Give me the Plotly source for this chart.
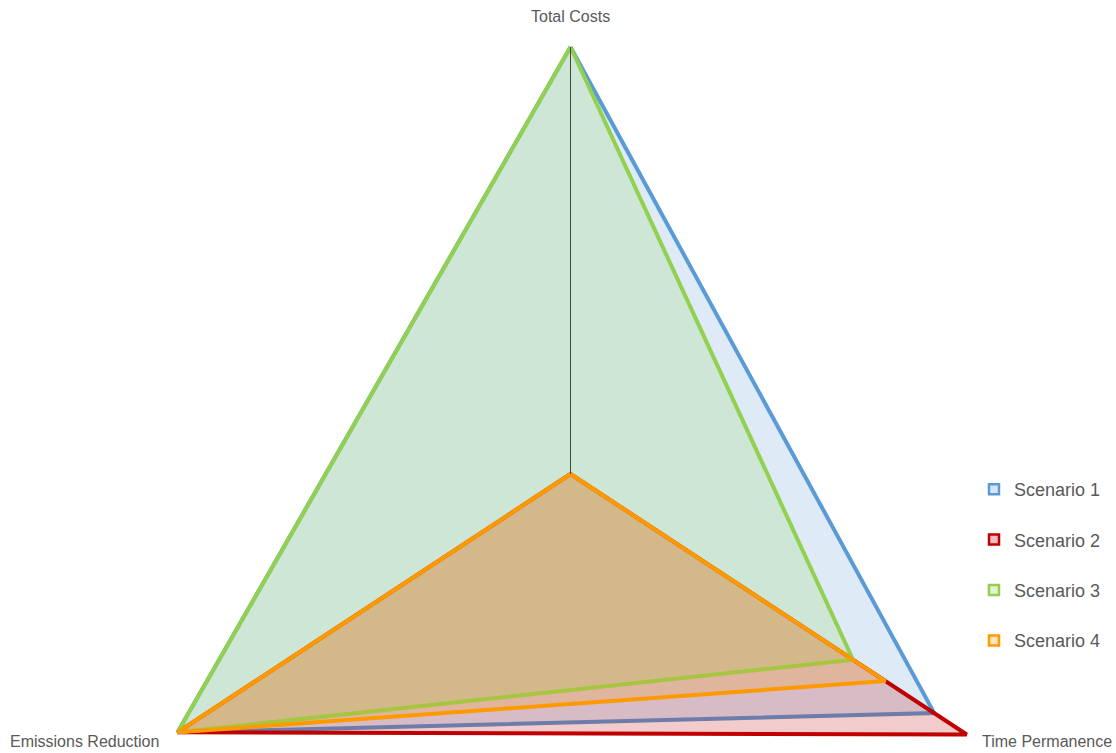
import math
import plotly.graph_objects as go

# Radar axes, clockwise from the top
categories = ["Total Costs", "Time Permanence", "Emissions Reduction"]
axis_angles = [90, -30, 210]  # degrees

scenarios = ["Scenario 1", "Scenario 2", "Scenario 3", "Scenario 4"]
scenario_1 = [1.00, 1.12, 1.21]
scenario_2 = [0.00, 1.22, 1.21]
scenario_3 = [1.00, 0.87, 1.21]
scenario_4 = [0.00, 0.97, 1.21]
axis_max = 1.0

line_colors = ["#5B9BD5", "#C00000", "#92D050", "#FF9900"]
fill_alpha = 0.2

FONT = "Liberation Sans, Arial, sans-serif"
TEXT_GRAY = "#595959"


def rgba(hex_color, a):
    h = hex_color.lstrip("#")
    r, g, b = int(h[0:2], 16), int(h[2:4], 16), int(h[4:6], 16)
    return f"rgba({r},{g},{b},{a})"


def to_xy(values):
    xs, ys = [], []
    for v, ang in zip(values, axis_angles):
        t = math.radians(ang)
        xs.append(v * math.cos(t))
        ys.append(v * math.sin(t))
    xs.append(xs[0])
    ys.append(ys[0])
    return xs, ys


fig = go.Figure()

series = [scenario_1, scenario_2, scenario_3, scenario_4]
for name, vals, col in zip(scenarios, series, line_colors):
    xs, ys = to_xy(vals)
    fig.add_trace(go.Scatter(
        x=xs, y=ys, mode="lines", fill="toself",
        fillcolor=rgba(col, fill_alpha),
        line=dict(color=col, width=4, shape="linear"),
        name=name, showlegend=False,
    ))

# value axis: centre to the axis maximum on the first category
ax_x, ax_y = to_xy([axis_max, 0, 0])
fig.add_trace(go.Scatter(
    x=ax_x[:1] + [0], y=ax_y[:1] + [0], mode="lines",
    line=dict(color="#3C4644", width=1), hoverinfo="skip", showlegend=False,
))

# legend keys: small outlined squares
for i, (name, col) in enumerate(zip(scenarios, line_colors)):
    fig.add_trace(go.Scatter(
        x=[None], y=[None], mode="markers", name=name,
        legendgroup=f"g{i}",
        marker=dict(symbol="square", size=10, color=rgba(col, 0.25),
                    line=dict(color=col, width=2.5)),
    ))

W, H = 1116, 753
cx, cy = 570.5, 474        # centre of the radar in the canvas
kx, ky = 375, 427          # pixels per unit along x and y

fig.update_xaxes(range=[-cx / kx, (W - cx) / kx], visible=False, fixedrange=True)
fig.update_yaxes(range=[-(H - cy) / ky, cy / ky], visible=False, fixedrange=True)

annotations = [
    dict(text=categories[0], x=570 / W, y=1 - 17 / H),
    dict(text=categories[1], x=1047 / W, y=1 - 741 / H),
    dict(text=categories[2], x=84 / W, y=1 - 741 / H),
]
for a in annotations:
    a.update(xref="paper", yref="paper", xanchor="center", yanchor="middle",
             showarrow=False, font=dict(family=FONT, size=16, color=TEXT_GRAY))

fig.update_layout(
    width=W, height=H,
    margin=dict(l=0, r=0, t=0, b=0),
    paper_bgcolor="white", plot_bgcolor="white",
    annotations=annotations,
    legend=dict(
        x=974 / W, y=1 - 471 / H, xanchor="left", yanchor="top",
        font=dict(family=FONT, size=18, color=TEXT_GRAY),
        tracegroupgap=24, itemwidth=30, bgcolor="rgba(0,0,0,0)",
    ),
    showlegend=True,
)

fig.write_html("out.html")
